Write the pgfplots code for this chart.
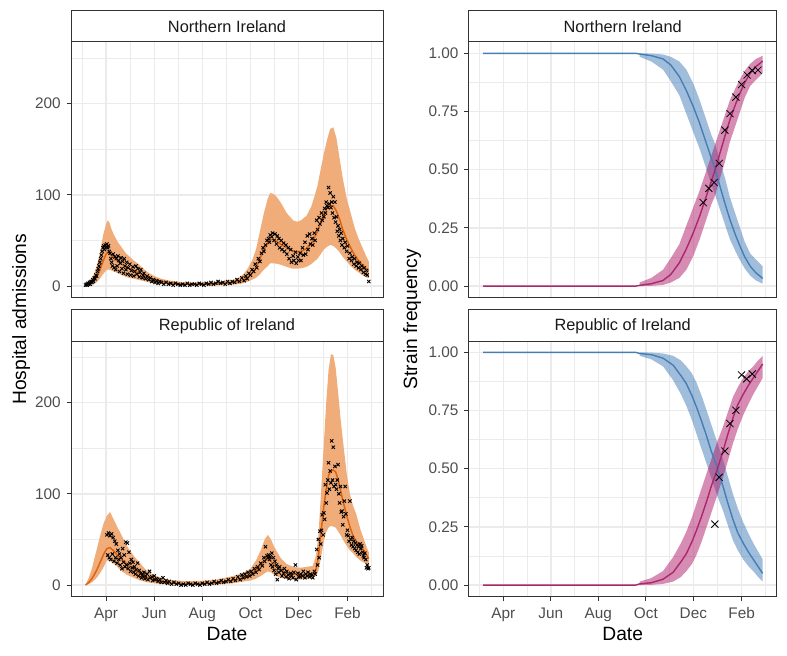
\documentclass[border=0pt]{standalone}
\usepackage{fontspec}
\setmainfont{Liberation Sans}
\usepackage{pgfplots}
\pgfplotsset{compat=1.18}
\usepackage{pgfplotstable}
\usepgfplotslibrary{fillbetween}

\definecolor{grey10}{HTML}{1A1A1A}
\definecolor{grey20}{HTML}{333333}
\definecolor{grey30}{HTML}{4D4D4D}
\definecolor{grey92}{HTML}{EBEBEB}
\definecolor{ribO}{HTML}{F0AD7A}
\definecolor{lineO}{HTML}{DC6410}
\definecolor{blueL}{RGB}{70,125,180}
\definecolor{blueB}{RGB}{65,125,185}
\definecolor{pinkL}{RGB}{170,40,110}
\definecolor{pinkB}{RGB}{175,25,105}

% ---------- Northern Ireland hospital admissions: model ----------
\pgfplotstableread{
d lo med hi
-26 0 1 2
-24 0.5 2 4
-20 1 3 7
-16 2 5 12
-12 4 10 22
-8 8 17 35
-4 13 27 55
0 17 35 68
2 18 37 72
4 18 36 70
7 17 33 62
10 16 31 56
15 14 27 48
20 12 24 42
25 10 21 36
30 9 19 32
35 8 17 28
40 7 15 25
45 6 13 21
50 5 11 17
55 4 9 14
60 3.5 7.5 11.5
65 3 6 9.5
70 2.5 5 8
80 1.5 3.5 6
90 1 2.5 5
100 0.8 2 4
110 0.8 2 4
120 0.8 2 4
130 0.8 2 4.5
140 1 2.5 5
150 1.2 3 5.5
160 1.5 3.5 6.5
165 2 4.5 8
170 2.5 5.5 10
175 3.5 7 14
180 5 10 20
185 7 14 28
190 9 20 40
195 13 30 60
200 18 40 80
205 22 47 96
208 25 51 102
212 25 51 101
216 24.5 49 98
221 23.5 46 92
229 21 42 80
237 19 38 72
242 19 37.5 70.5
247 19.5 38 72
254 21 41 77
260 24 47 87
264 27 53 98
268 30 60 110
272 35 70 128
276 40 79 145
280 43 85 160
284 45 88 172
288 44 88 174
292 41 82 162
296 37 73 140
300 32 62 118
305 27 51 96
310 22 42 80
315 18 34 64
320 15 28 52
325 12 23 42
330 9.5 19 32
333 8.5 17 27
}\nihosp

% ---------- Northern Ireland hospital admissions: data ----------
\pgfplotstableread{
d y
-26 1
-25 2
-24 1
-23 3
-22 2
-21 4
-20 2
-19 5
-18 4
-17 7
-16 5
-15 9
-14 8
-13 12
-12 11
-11 16
-10 19
-9 22
-8 26
-7 30
-6 34
-5 38
-4 42
-3 44
-2 40
-1 45
0 43
1 46
2 42
3 44
4 38
5 36
6 30
7 26
8 22
9 35
10 20
11 32
12 18
13 30
14 22
15 33
16 28
17 16
18 25
19 31
20 19
21 27
22 14
23 30
24 22
25 18
26 26
27 13
28 20
30 24
31 12
32 17
34 21
35 11
36 16
38 22
39 13
40 19
42 10
43 15
44 18
46 9
47 12
48 14
50 8
52 11
54 7
56 9
58 5
60 7
62 4
64 6
66 3
68 5
70 4
73 2
76 4
79 2
82 3
85 1
88 3
91 2
94 1
97 2
100 1
103 3
106 1
109 2
112 2
115 1
118 3
121 2
124 1
127 3
130 2
133 4
136 2
139 3
142 5
145 3
148 4
151 2
154 5
157 3
160 5
163 4
166 7
169 5
172 9
175 6
177 11
179 8
181 14
183 12
185 18
187 16
189 24
191 20
193 30
195 27
197 36
199 42
200 38
202 45
204 50
206 52
207 48
208 56
210 54
211 58
213 50
214 57
216 46
217 55
219 52
220 42
222 50
223 40
225 47
226 38
228 45
229 35
231 42
232 30
234 40
235 26
237 33
238 28
240 37
241 25
243 32
244 28
246 36
247 28
249 42
250 34
252 48
253 35
255 55
256 40
258 57
259 46
261 52
262 45
264 58
265 50
267 72
268 62
270 75
271 68
273 80
274 72
276 76
277 85
278 80
279 92
280 88
281 86
282 108
283 90
284 102
285 86
286 92
287 80
288 98
289 75
290 92
291 70
292 76
293 60
294 66
295 55
296 62
297 50
298 58
299 45
300 52
302 42
303 48
305 38
306 44
308 30
309 36
311 28
312 32
314 24
315 30
317 22
318 26
320 20
321 25
323 18
324 22
326 15
327 20
329 13
330 17
331 12
333 5
}\nipts

% ---------- Republic of Ireland hospital admissions: model ----------
\pgfplotstableread{
d lo med hi
-26 0 0 0
-22 1 3 8
-18 3 7 18
-14 6 13 32
-11 9 18 42
-7 14 26 56
-3 20 34 68
1 27 40 76
5 26 41 80
9 24 38 73
14 20 33 64
20 15 28 54
27 11 23 42
35 8 17 32
43 5 12 24
50 3.5 9 17
56 2.5 7 13
65 1.5 4 9.5
77 1 2.5 6
98 0.5 1 4.4
120 0.5 1 4.5
140 1 2.5 6
161 2 5 9.8
175 4 8 14
183 5 11.5 18
190 7 16 27
196 10 22 38
201 13 27 50
205 15 28.5 55
209 14 26 50
213 11 22 42
221 8 17 30
229 6.5 13 23
237 6 12 20
246 6 11.5 19
255 6.5 11.5 20
262 8 12 21
266 10 17 32
269 15 30 53
272 28 55 95
276 48 86 155
279 58 105 200
282 63 120 236
285 65 125 253
288 64 126 252
291 63 124 238
294 59 116 212
297 55 105 184
300 50 93 160
305 43 76 122
309 38 64 100
313 35 54 87
317 31 48 78
322 27 43 62
326 25 39 52
330 23 33 42
333 21 29 36
}\roihosp

% ---------- Republic of Ireland hospital admissions: data ----------
\pgfplotstableread{
d y
1 55
2 33
3 57
4 30
5 54
6 28
7 56
8 34
9 52
10 26
11 48
12 30
13 45
14 24
15 38
16 28
17 34
18 22
19 30
20 18
21 40
22 25
23 33
24 20
25 47
26 22
27 46
28 18
29 36
30 24
31 15
32 28
33 19
34 25
35 14
36 20
37 12
38 17
40 24
41 10
42 16
44 13
45 8
46 11
48 14
49 7
50 10
52 12
53 6
55 15
56 8
58 9
59 5
61 10
62 6
64 7
66 4
68 6
70 3
72 8
74 3
76 5
78 2
80 4
83 1
86 3
89 1
92 2
95 0
98 1
101 0
104 2
107 1
110 0
113 2
116 1
119 0
122 2
125 1
128 3
131 1
134 2
137 4
140 2
143 3
146 5
149 3
152 4
155 6
158 4
161 7
164 5
167 9
170 6
172 11
174 8
176 12
178 9
180 14
182 10
184 15
186 12
188 18
190 14
192 20
194 17
196 24
198 21
200 30
201 26
202 42
204 32
205 30
206 33
207 28
208 31
209 22
210 35
211 20
212 30
213 16
214 26
215 12
216 22
217 6
218 18
219 14
220 20
222 16
223 10
225 13
226 18
228 9
229 15
231 11
232 7
234 13
235 10
237 8
238 14
240 22
241 6
243 13
244 9
246 9
247 12
249 10
250 15
252 8
253 12
255 10
256 14
258 9
259 12
261 11
262 8
264 15
265 12
267 39
268 22
269 50
270 30
271 59
272 45
273 60
274 77
275 55
276 79
277 72
278 110
279 90
280 101
281 115
282 134
283 105
284 125
285 112
286 158
287 115
288 151
289 108
290 130
291 110
292 105
293 115
294 132
295 100
296 90
297 108
298 80
299 81
300 66
301 75
302 92
303 108
304 78
305 55
306 60
307 54
308 48
309 92
310 50
311 44
312 52
313 42
314 48
315 40
316 46
317 38
318 44
319 36
320 42
321 34
322 45
323 40
324 43
325 36
326 32
327 30
328 35
329 28
330 19
331 22
332 18
333 19
}\roipts

% ---------- Northern Ireland strain frequency ----------
\pgfplotstableread{
d bmed blo bhi pmed plo phi
175 0.997 0.985 1.0 0.003 0 0.015
190 0.99 0.965 0.999 0.01 0.001 0.035
205 0.976 0.93 0.995 0.024 0.005 0.07
215 0.95 0.88 0.985 0.05 0.015 0.12
226 0.90 0.82 0.965 0.10 0.035 0.18
235 0.84 0.74 0.93 0.16 0.07 0.26
244 0.77 0.66 0.87 0.23 0.13 0.34
252 0.70 0.59 0.80 0.30 0.20 0.41
260 0.62 0.51 0.72 0.38 0.28 0.49
267 0.55 0.44 0.65 0.45 0.35 0.56
272 0.50 0.39 0.61 0.50 0.39 0.61
278 0.43 0.33 0.54 0.57 0.46 0.67
285 0.35 0.26 0.46 0.65 0.54 0.74
291 0.285 0.20 0.38 0.715 0.62 0.80
298 0.22 0.15 0.31 0.78 0.69 0.85
304 0.17 0.11 0.25 0.83 0.75 0.89
310 0.125 0.075 0.19 0.875 0.81 0.925
317 0.085 0.045 0.14 0.915 0.86 0.955
324 0.058 0.025 0.115 0.942 0.885 0.975
333 0.033 0.01 0.085 0.967 0.915 0.99
}\nistrain
\pgfplotstableread{
d b p
-26 1 0
170 1 0
175 0.997 0.003
190 0.99 0.01
205 0.976 0.024
215 0.95 0.05
226 0.90 0.10
235 0.84 0.16
244 0.77 0.23
252 0.70 0.30
260 0.62 0.38
267 0.55 0.45
272 0.50 0.50
278 0.43 0.57
285 0.35 0.65
291 0.285 0.715
298 0.22 0.78
304 0.17 0.83
310 0.125 0.875
317 0.085 0.915
324 0.058 0.942
333 0.033 0.967
}\nistrainline
\pgfplotstableread{
d y
256.6 0.359
263.9 0.42
270.7 0.445
277.2 0.527
284.5 0.67
291 0.741
298.6 0.812
305.9 0.866
313 0.907
319.6 0.926
327 0.928
}\nistrainpts

% ---------- Republic of Ireland strain frequency ----------
\pgfplotstableread{
d bmed blo bhi pmed plo phi
175 0.995 0.985 1.0 0.005 0 0.015
190 0.99 0.97 0.999 0.01 0.001 0.03
205 0.975 0.94 0.995 0.025 0.005 0.06
218 0.945 0.88 0.985 0.055 0.015 0.12
228 0.90 0.82 0.965 0.10 0.035 0.18
235 0.865 0.77 0.94 0.135 0.06 0.23
242 0.815 0.71 0.91 0.185 0.09 0.29
248 0.765 0.65 0.87 0.235 0.13 0.35
255 0.70 0.58 0.81 0.30 0.19 0.42
261 0.64 0.52 0.75 0.36 0.25 0.48
267 0.575 0.46 0.69 0.425 0.31 0.54
274 0.51 0.39 0.62 0.49 0.38 0.61
282 0.425 0.32 0.54 0.575 0.46 0.68
288 0.355 0.26 0.47 0.645 0.53 0.74
295 0.28 0.19 0.39 0.72 0.61 0.81
301 0.225 0.15 0.33 0.775 0.67 0.85
308 0.18 0.11 0.27 0.82 0.73 0.89
315 0.14 0.08 0.22 0.86 0.78 0.92
321 0.11 0.06 0.18 0.89 0.82 0.94
327 0.08 0.035 0.145 0.92 0.855 0.965
333 0.05 0.015 0.11 0.95 0.89 0.985
}\roistrain
\pgfplotstableread{
d b p
-26 1 0
170 1 0
175 0.995 0.005
190 0.99 0.01
205 0.975 0.025
218 0.945 0.055
228 0.90 0.10
235 0.865 0.135
242 0.815 0.185
248 0.765 0.235
255 0.70 0.30
261 0.64 0.36
267 0.575 0.425
274 0.51 0.49
282 0.425 0.575
288 0.355 0.645
295 0.28 0.72
301 0.225 0.775
308 0.18 0.82
315 0.14 0.86
321 0.11 0.89
327 0.08 0.92
333 0.05 0.95
}\roistrainline
\pgfplotstableread{
d y
271.6 0.262
277.2 0.463
284.5 0.576
291 0.694
298.6 0.751
305.9 0.903
312.3 0.886
319.6 0.907
}\roistrainpts

\pgfplotsset{
  panel/.style={
    scale only axis, height=256bp,
    xmin=-44.5, xmax=351,
    axis line style={grey20, line width=0.9bp},
    grid=both,
    major grid style={grey92, line width=1.4bp},
    minor grid style={grey92, line width=0.7bp},
    xtick={0,61,122,183,244,306},
    minor xtick={-30.5,30.5,91.5,152.5,213.5,275,336},
    xtick pos=bottom, ytick pos=left,
    tick align=outside,
    major tick length=4.3bp,
    minor tick length=0pt,
    tick style={grey20, line width=0.9bp},
    ticklabel style={font=\fontsize{15.4}{18}\selectfont, text=grey30},
    xticklabel style={yshift=-3bp},
    yticklabel style={xshift=-2.5bp},
    /pgf/number format/assume math mode=true,
    clip=true,
  },
  hosp/.style={panel, width=312bp, ymin=-12.75, ymax=267.75,
    ytick={0,100,200}, yticklabels={0,100,200}, minor ytick={50,150,250}},
  strain/.style={panel, width=308bp, ymin=-0.05, ymax=1.05,
    ytick={0,0.25,0.5,0.75,1}, yticklabels={0.00,0.25,0.50,0.75,1.00},
    minor ytick={0.125,0.375,0.625,0.875}},
  toprow/.style={xticklabels={}, xtick style={draw=none}},
  botrow/.style={xticklabels={Apr,Jun,Aug,Oct,Dec,Feb}},
  pts/.style={only marks, mark=x, mark size=2.3bp, mark options={line width=0.9bp, black}},
  bigx/.style={only marks, mark=x, mark size=5bp, mark options={line width=0.8bp, black}},
}

\begin{document}
\begin{tikzpicture}
\path (0,0) rectangle (787bp,-656bp);

% ===== NI hospital =====
\begin{axis}[hosp, toprow, at={(71bp,-297.7bp)}, anchor=south west]
\addplot[name path=nihi, draw=none, forget plot] table[x=d,y=hi]{\nihosp};
\addplot[name path=nilo, draw=none, forget plot] table[x=d,y=lo]{\nihosp};
\addplot[fill=ribO, draw=none] fill between[of=nihi and nilo];
\addplot[lineO, line width=1.5bp] table[x=d,y=med]{\nihosp};
\addplot[pts] table[x=d,y=y]{\nipts};
\end{axis}

% ===== RoI hospital =====
\begin{axis}[hosp, botrow, at={(71bp,-596.7bp)}, anchor=south west]
\addplot[name path=rohi, draw=none, forget plot] table[x=d,y=hi]{\roihosp};
\addplot[name path=rolo, draw=none, forget plot] table[x=d,y=lo]{\roihosp};
\addplot[fill=ribO, draw=none] fill between[of=rohi and rolo];
\addplot[lineO, line width=1.5bp] table[x=d,y=med]{\roihosp};
\addplot[pts] table[x=d,y=y]{\roipts};
\end{axis}

% ===== NI strain =====
\begin{axis}[strain, toprow, at={(468.7bp,-297.7bp)}, anchor=south west]
\addplot[name path=nsbh, draw=none, forget plot] table[x=d,y=bhi]{\nistrain};
\addplot[name path=nsbl, draw=none, forget plot] table[x=d,y=blo]{\nistrain};
\addplot[fill=blueB, fill opacity=0.5, draw=none] fill between[of=nsbh and nsbl];
\addplot[name path=nsph, draw=none, forget plot] table[x=d,y=phi]{\nistrain};
\addplot[name path=nspl, draw=none, forget plot] table[x=d,y=plo]{\nistrain};
\addplot[fill=pinkB, fill opacity=0.5, draw=none] fill between[of=nsph and nspl];
\addplot[blueL, line width=1.4bp] table[x=d,y=b]{\nistrainline};
\addplot[pinkL, line width=1.4bp] table[x=d,y=p]{\nistrainline};
\addplot[bigx] table[x=d,y=y]{\nistrainpts};
\end{axis}

% ===== RoI strain =====
\begin{axis}[strain, botrow, at={(468.7bp,-596.7bp)}, anchor=south west]
\addplot[name path=rsbh, draw=none, forget plot] table[x=d,y=bhi]{\roistrain};
\addplot[name path=rsbl, draw=none, forget plot] table[x=d,y=blo]{\roistrain};
\addplot[fill=blueB, fill opacity=0.5, draw=none] fill between[of=rsbh and rsbl];
\addplot[name path=rsph, draw=none, forget plot] table[x=d,y=phi]{\roistrain};
\addplot[name path=rspl, draw=none, forget plot] table[x=d,y=plo]{\roistrain};
\addplot[fill=pinkB, fill opacity=0.5, draw=none] fill between[of=rsph and rspl];
\addplot[blueL, line width=1.4bp] table[x=d,y=b]{\roistrainline};
\addplot[pinkL, line width=1.4bp] table[x=d,y=p]{\roistrainline};
\addplot[bigx] table[x=d,y=y]{\roistrainpts};
\end{axis}

% ===== strips =====
\begin{scope}[line width=0.9bp]
\draw[grey20, fill=white] (71bp,-10bp) rectangle (383bp,-41.7bp);
\draw[grey20, fill=white] (71bp,-309.7bp) rectangle (383bp,-341.2bp);
\draw[grey20, fill=white] (468.7bp,-10bp) rectangle (776.7bp,-41.7bp);
\draw[grey20, fill=white] (468.7bp,-309.7bp) rectangle (776.7bp,-341.2bp);
\end{scope}
\begin{scope}[every node/.style={font=\fontsize{16.4}{19}\selectfont, text=grey10, anchor=base, inner sep=0pt}]
\node at (227bp,-32.3bp) {Northern Ireland};
\node at (227bp,-330.9bp) {Republic of Ireland};
\node at (622.7bp,-32.3bp) {Northern Ireland};
\node at (622.7bp,-330.9bp) {Republic of Ireland};
\end{scope}

% ===== axis titles =====
\begin{scope}[every node/.style={font=\fontsize{19.3}{22}\selectfont, text=black, anchor=base, inner sep=0pt}]
\node at (227bp,-640.7bp) {Date};
\node at (622.7bp,-640.7bp) {Date};
\node[rotate=90] at (26bp,-319.2bp) {Hospital admissions};
\node[rotate=90] at (417bp,-319.2bp) {Strain frequency};
\end{scope}
\end{tikzpicture}
\end{document}
